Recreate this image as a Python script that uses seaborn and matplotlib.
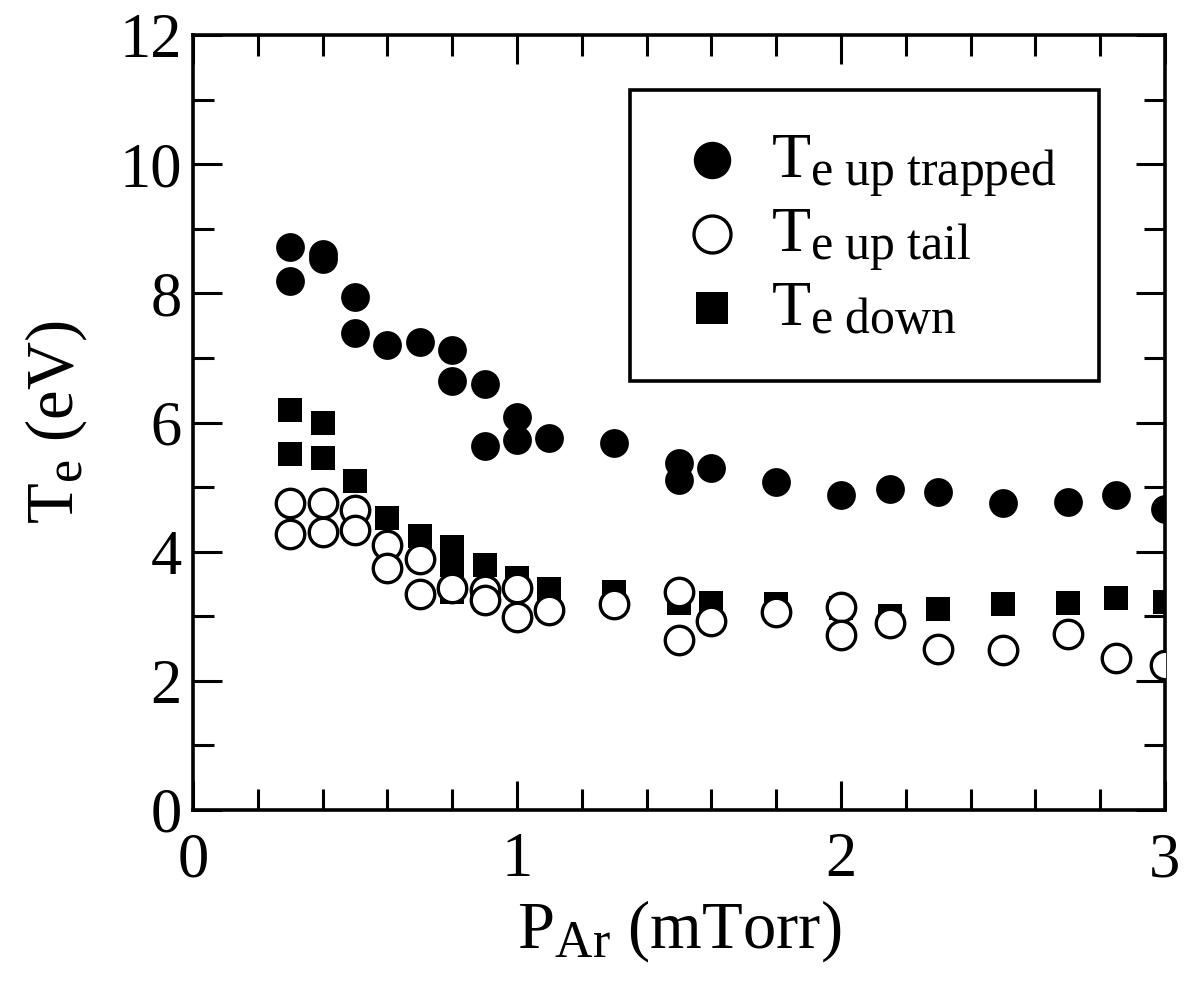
import numpy as np
import pandas as pd
import matplotlib
matplotlib.use("Agg")
import matplotlib.pyplot as plt
from matplotlib.ticker import MultipleLocator
import matplotlib._mathtext as _mt
import seaborn as sns

# ---- data ----
trapped_x = [0.3, 0.3, 0.4, 0.4, 0.5, 0.5, 0.6, 0.7, 0.8, 0.8, 0.9, 0.9, 1.0, 1.0, 1.1,
             1.3, 1.5, 1.5, 1.6, 1.8, 2.0, 2.15, 2.3, 2.5, 2.7, 2.85, 3.0]
trapped_y = [8.72, 8.19, 8.61, 8.53, 7.95, 7.39, 7.20, 7.25, 7.12, 6.64, 6.60, 5.63, 6.09, 5.73, 5.76,
             5.69, 5.38, 5.11, 5.29, 5.08, 4.88, 4.97, 4.92, 4.75, 4.77, 4.88, 4.66]

tail_x = [0.3, 0.3, 0.4, 0.4, 0.5, 0.5, 0.6, 0.6, 0.7, 0.7, 0.8, 0.9, 0.9, 1.0, 1.0, 1.1,
          1.3, 1.5, 1.5, 1.6, 1.8, 2.0, 2.0, 2.15, 2.3, 2.5, 2.7, 2.85, 3.0]
tail_y = [4.76, 4.28, 4.76, 4.31, 4.65, 4.34, 4.10, 3.74, 3.88, 3.35, 3.44, 3.41, 3.25, 3.43, 2.99, 3.10,
          3.19, 3.38, 2.64, 2.92, 3.06, 3.15, 2.71, 2.90, 2.50, 2.48, 2.73, 2.36, 2.25]

down_x = [0.3, 0.3, 0.4, 0.4, 0.5, 0.6, 0.7, 0.8, 0.8, 0.8, 0.9, 1.0, 1.1,
          1.3, 1.5, 1.6, 1.8, 2.0, 2.15, 2.3, 2.5, 2.7, 2.85, 3.0]
down_y = [6.19, 5.51, 5.99, 5.45, 5.10, 4.52, 4.25, 4.08, 3.80, 3.38, 3.79, 3.60, 3.42,
          3.37, 3.21, 3.21, 3.19, 3.13, 3.01, 3.12, 3.19, 3.20, 3.28, 3.22]

labels = [r"T$_{\mathrm{e\ up\ trapped}}$", r"T$_{\mathrm{e\ up\ tail}}$", r"T$_{\mathrm{e\ down}}$"]
x_label = r"P$_{\mathrm{Ar}}$ (mTorr)"
y_label = r"T$_{\mathrm{e}}$ (eV)"

# slightly larger subscripts, as in the reference
_mt.SHRINK_FACTOR = 0.78

sns.set_theme(style="white")
plt.rcParams["font.family"] = ["Liberation Serif", "DejaVu Serif"]
plt.rcParams["mathtext.fontset"] = "custom"
plt.rcParams["mathtext.rm"] = "Liberation Serif"
plt.rcParams["mathtext.it"] = "Liberation Serif:italic"
plt.rcParams["mathtext.bf"] = "Liberation Serif:bold"
for k in ["text.color", "axes.labelcolor", "xtick.color", "ytick.color", "axes.edgecolor"]:
    plt.rcParams[k] = "black"

fig = plt.figure(figsize=(11.84, 9.86), dpi=100)
ax = fig.add_axes([193 / 1184, 1 - 810 / 986, (1165 - 193) / 1184, (810 - 35) / 986])

df_tr = pd.DataFrame({"x": trapped_x, "y": trapped_y})
df_ta = pd.DataFrame({"x": tail_x, "y": tail_y})
df_dn = pd.DataFrame({"x": down_x, "y": down_y})

sns.scatterplot(data=df_tr, x="x", y="y", ax=ax, marker="o", s=430, color="black",
                edgecolor="black", linewidth=0, label=labels[0], zorder=3)
sns.scatterplot(data=df_ta, x="x", y="y", ax=ax, marker="o", s=420, facecolor="white",
                edgecolor="black", linewidth=2.4, label=labels[1], zorder=5)
sns.scatterplot(data=df_dn, x="x", y="y", ax=ax, marker="s", s=300, color="black",
                edgecolor="black", linewidth=0, label=labels[2], zorder=4)

ax.set_xlim(0, 3)
ax.set_ylim(0, 12)
ax.xaxis.set_major_locator(MultipleLocator(1))
ax.xaxis.set_minor_locator(MultipleLocator(0.2))
ax.yaxis.set_major_locator(MultipleLocator(2))
ax.yaxis.set_minor_locator(MultipleLocator(1))

for sp in ax.spines.values():
    sp.set_linewidth(2.6)
    sp.set_color("black")

ax.tick_params(which="both", direction="in", top=True, right=True, bottom=True, left=True,
               color="black", width=2.2)
ax.tick_params(which="major", length=21, labelsize=45, colors="black")
ax.tick_params(which="minor", length=15)
ax.tick_params(axis="x", which="major", pad=16)
ax.tick_params(axis="y", which="major", pad=8)

ax.set_xlabel(x_label, fontsize=48, labelpad=6, color="black")
ax.set_ylabel(y_label, fontsize=48, labelpad=22, color="black")

leg = ax.legend(loc="upper left", bbox_to_anchor=(0.45, 0.929), fontsize=46,
                markerscale=1.3, frameon=True, fancybox=False, edgecolor="black",
                framealpha=1.0, borderpad=0.66, labelspacing=0.12, handletextpad=0.32,
                handlelength=1.22, borderaxespad=0)
leg.get_frame().set_linewidth(2.6)
leg.get_frame().set_facecolor("white")
leg.get_frame().set_edgecolor("black")
for t in leg.get_texts():
    t.set_color("black")

fig.savefig("out.png", dpi=100)
